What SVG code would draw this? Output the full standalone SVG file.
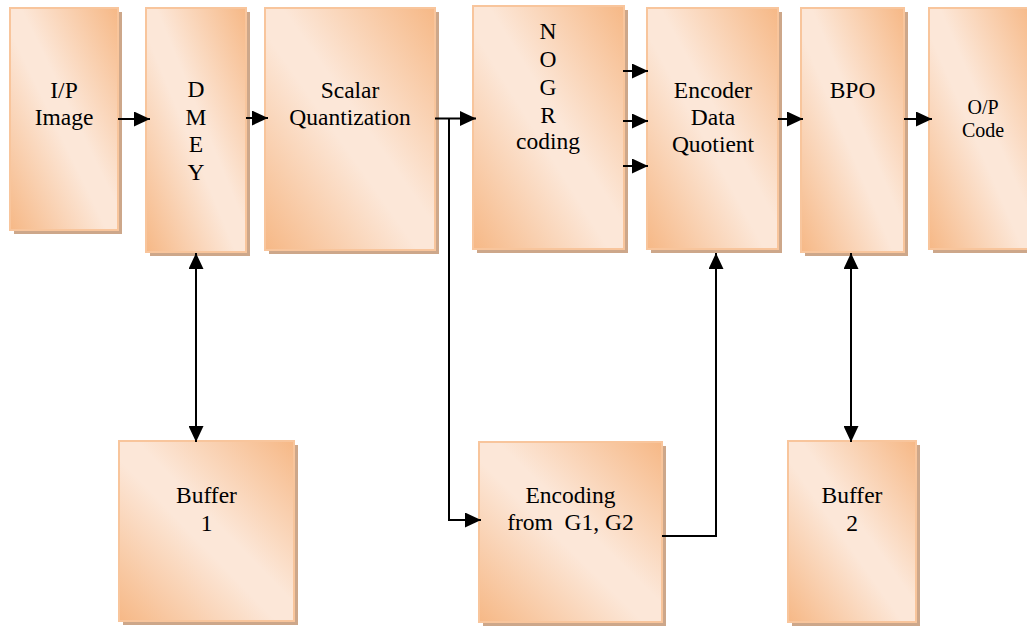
<svg xmlns="http://www.w3.org/2000/svg" width="1027" height="626" viewBox="0 0 1027 626">
<defs>
<linearGradient id="g" x1="1" y1="0" x2="0" y2="1">
<stop offset="0" stop-color="#F6B886"/>
<stop offset="0.45" stop-color="#FCE7D8"/>
<stop offset="0.55" stop-color="#FCE7D8"/>
<stop offset="1" stop-color="#F6B886"/>
</linearGradient>
<marker id="ah" markerUnits="userSpaceOnUse" markerWidth="16" markerHeight="15" refX="16" refY="7.5" orient="auto-start-reverse">
<path d="M0,0 L16,7.5 L0,15 z" fill="#000"/>
</marker>
<style>
.sh{fill:#CDA78A}
.bx{fill:url(#g);stroke:#F8C59C;stroke-width:2}
text{font-family:"Liberation Serif","Times New Roman",serif;font-size:23.5px;fill:#000;text-anchor:middle}
.c{fill:none;stroke:#000;stroke-width:2}
.a{marker-end:url(#ah)}
.d{marker-start:url(#ah);marker-end:url(#ah)}
</style>
</defs>
<rect width="1027" height="626" fill="#fff"/>
<g id="ip">
<rect class="sh" x="14" y="12" width="108" height="222"/>
<rect class="bx" x="10" y="8" width="108" height="222"/>
<text x="64" y="98">I/P</text>
<text x="64" y="125">Image</text>
</g>
<g id="dmey">
<rect class="sh" x="150" y="12" width="100" height="244"/>
<rect class="bx" x="146" y="8" width="100" height="244"/>
<text x="196" y="97">D</text>
<text x="196" y="124.5">M</text>
<text x="196" y="152">E</text>
<text x="196" y="179.5">Y</text>
</g>
<g id="scalar">
<rect class="sh" x="269" y="12" width="170" height="242"/>
<rect class="bx" x="265" y="8" width="170" height="242"/>
<text x="350" y="98">Scalar</text>
<text x="350" y="125">Quantization</text>
</g>
<g id="nogr">
<rect class="sh" x="477" y="10" width="151" height="243"/>
<rect class="bx" x="473" y="6" width="151" height="243"/>
<text x="548" y="39">N</text>
<text x="548" y="67">O</text>
<text x="548" y="95">G</text>
<text x="548" y="122.5">R</text>
<text x="548" y="149">coding</text>
</g>
<g id="encoder">
<rect class="sh" x="651" y="12" width="131" height="241"/>
<rect class="bx" x="647" y="8" width="131" height="241"/>
<text x="713" y="98">Encoder</text>
<text x="713" y="125">Data</text>
<text x="713" y="152">Quotient</text>
</g>
<g id="bpo">
<rect class="sh" x="805" y="12" width="103" height="244"/>
<rect class="bx" x="801" y="8" width="103" height="244"/>
<text x="852.5" y="98">BPO</text>
</g>
<g id="op">
<rect class="sh" x="933" y="12" width="105" height="241"/>
<rect class="bx" x="929" y="8" width="105" height="241"/>
<text x="983" y="114" style="font-size:20px">O/P</text>
<text x="983" y="137" style="font-size:20px">Code</text>
</g>
<g id="buffer1">
<rect class="sh" x="123" y="445" width="175" height="180"/>
<rect class="bx" x="119" y="441" width="175" height="180"/>
<text x="206.5" y="503">Buffer</text>
<text x="206.5" y="531">1</text>
</g>
<g id="encoding">
<rect class="sh" x="483" y="446" width="183" height="180"/>
<rect class="bx" x="479" y="442" width="183" height="180"/>
<text x="570.5" y="503">Encoding</text>
<text x="570.5" y="530" xml:space="preserve">from  G1, G2</text>
</g>
<g id="buffer2">
<rect class="sh" x="792" y="445" width="128" height="181"/>
<rect class="bx" x="788" y="441" width="128" height="181"/>
<text x="852" y="503">Buffer</text>
<text x="852" y="531">2</text>
</g>
<g id="connectors">
<path class="c a" d="M118,119 L150,119"/>
<path class="c a" d="M246,118 L268,118"/>
<path class="c a" d="M435,118.5 L476,118.5"/>
<path class="c a" d="M449,118.5 L449,520 L481,520"/>
<path class="c a" d="M623,71 L648,71"/>
<path class="c a" d="M623,121 L648,121"/>
<path class="c a" d="M623,166 L648,166"/>
<path class="c a" d="M778,119 L803,119"/>
<path class="c a" d="M904,119 L932,119"/>
<path class="c d" d="M196,253 L196,442"/>
<path class="c d" d="M851,253 L851,442"/>
<path class="c a" d="M662,536 L716,536 L716,253"/>
</g>
</svg>
